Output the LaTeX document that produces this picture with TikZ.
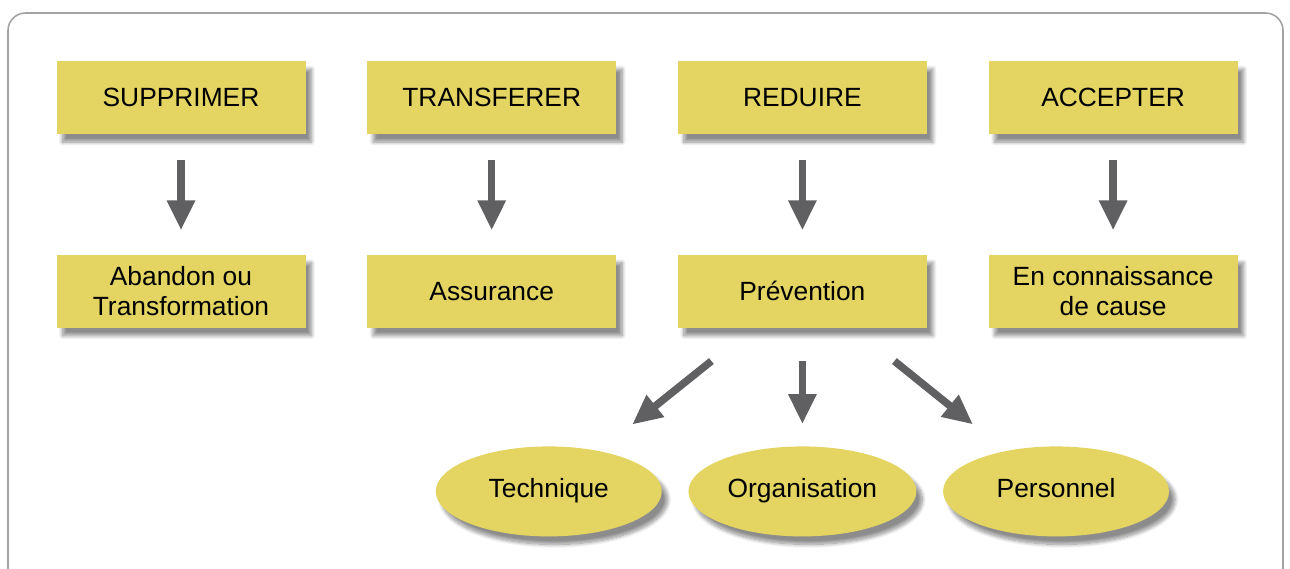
\documentclass[tikz,border=0pt]{standalone}
\usepackage{fontspec}
\setmainfont{Liberation Sans}
\usetikzlibrary{positioning,shapes.geometric,shadows.blur,arrows.meta}

\definecolor{jaune}{HTML}{E4D461}
\definecolor{fleche}{HTML}{606062}
\definecolor{cadre}{HTML}{A3A3A3}

\tikzset{
  boite/.style={rectangle, fill=jaune, minimum width=4.98cm, minimum height=1.46cm,
    align=center, font=\fontsize{15}{17}\selectfont,
    blur shadow={shadow xshift=1.2mm, shadow yshift=-1.6mm, shadow blur steps=10, shadow opacity=45}},
  bulle/.style={ellipse, fill=jaune, minimum width=4.52cm, minimum height=1.8cm,
    font=\fontsize{15}{17}\selectfont, text height=1.6ex, text depth=0.35ex,
    blur shadow={shadow xshift=1.2mm, shadow yshift=-1.6mm, shadow blur steps=10, shadow opacity=45}},
  grosse/.style={draw=fleche, line width=4.3pt,
    -{Triangle[width=15pt,length=17pt]}}
}

\begin{document}
\begin{tikzpicture}

  \useasboundingbox (0,0) rectangle (25.8,-11.36);
  \draw[cadre, line width=0.9pt, rounded corners=0.35cm] (0.16,-11.8) rectangle (25.66,-0.26);

  \node[boite] (S)                    at (3.62,-1.95) {SUPPRIMER};
  \node[boite] (T) [right=1.22cm of S] {TRANSFERER};
  \node[boite] (R) [right=1.22cm of T] {REDUIRE};
  \node[boite] (A) [right=1.22cm of R] {ACCEPTER};

  \node[boite] (ab)   [below=2.4cm of S] {Abandon ou\\Transformation};
  \node[boite] (as)   [below=2.4cm of T] {Assurance};
  \node[boite] (prev) [below=2.4cm of R] {Prévention};
  \node[boite] (con)  [below=2.4cm of A] {En connaissance\\de cause};

  \node[bulle] (org)  [below=2.36cm of prev] {Organisation};
  \node[bulle] (tech) [left=0.52cm of org]   {Technique};
  \node[bulle] (pers) [right=0.52cm of org]  {Personnel};

  \coordinate (dg) at ([xshift=-1.82cm,yshift=-0.66cm]prev.south);
  \coordinate (dd) at ([xshift=1.84cm,yshift=-0.66cm]prev.south);

  \foreach \haut/\bas in {S/ab,T/as,R/prev,A/con}
    \draw[grosse, shorten <=0.52cm, shorten >=0.48cm] (\haut) -- (\bas);

  \draw[grosse, shorten >=0.44cm] ([yshift=-0.66cm]prev.south) -- (org);
  \draw[grosse, shorten >=0.84cm] (dg) -- (tech);
  \draw[grosse, shorten >=0.84cm] (dd) -- (pers);

\end{tikzpicture}
\end{document}
